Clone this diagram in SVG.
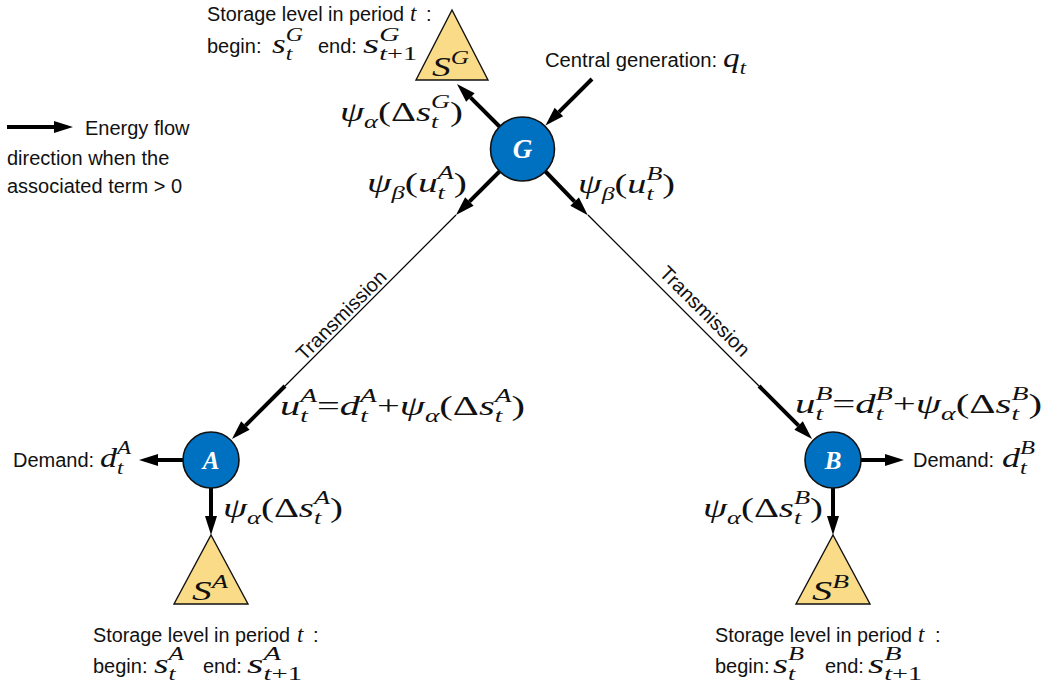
<svg xmlns="http://www.w3.org/2000/svg" width="1051" height="695" viewBox="0 0 1051 695">
<style>
.t{font-family:"Liberation Sans",Arial,sans-serif;font-size:20px;fill:#111}
.m{font-family:"Liberation Serif","Times New Roman",serif;font-style:italic;font-size:28px;fill:#111}
.mt{font-family:"Liberation Serif","Times New Roman",serif;font-style:italic;font-size:23px;fill:#111}
.sb{font-size:19px}
.up{font-style:normal}
.thick{stroke:#000;stroke-width:4;fill:none;marker-end:url(#ah)}
.thin{stroke:#000;stroke-width:1.2;fill:none}
.node{fill:#0070C0;stroke:#111;stroke-width:1.6}
.store{fill:#FADC88;stroke:#111;stroke-width:1.4;stroke-linejoin:miter}
.nl{font-family:"Liberation Serif","Times New Roman",serif;font-style:italic;font-weight:bold;font-size:27px;fill:#fff;text-anchor:middle}
.tr{font-family:"Liberation Sans",Arial,sans-serif;font-size:20px;fill:#111;text-anchor:middle}
</style>
<defs>
<marker id="ah" markerUnits="userSpaceOnUse" markerWidth="20" markerHeight="14" refX="0" refY="6" orient="auto" overflow="visible">
<path d="M0,0 L19,6 L0,12 z" fill="#000"/>
</marker>
</defs>

<g id="connectors">
<line class="thick" x1="7" y1="127" x2="54" y2="127"/>
<line class="thick" x1="500" y1="127" x2="470.4" y2="97.4"/>
<line class="thick" x1="592" y1="79" x2="558.9" y2="112.1"/>
<line class="thick" x1="500" y1="171" x2="469.4" y2="201.6"/>
<line class="thin" x1="456" y1="215" x2="285" y2="386"/>
<line class="thick" x1="285" y1="386" x2="245.4" y2="425.6"/>
<line class="thick" x1="545" y1="171" x2="574.6" y2="201.6"/>
<line class="thin" x1="588" y1="215" x2="759" y2="386"/>
<line class="thick" x1="759" y1="386" x2="798.6" y2="425.6"/>
<line class="thick" x1="184" y1="460" x2="158" y2="460"/>
<line class="thick" x1="211" y1="488" x2="211" y2="516"/>
<line class="thick" x1="860" y1="460" x2="885" y2="460"/>
<line class="thick" x1="833" y1="488" x2="833" y2="516"/>
</g>

<g id="legend">
<text class="t" x="85" y="135">Energy flow</text>
<text class="t" x="7" y="165">direction when the</text>
<text class="t" x="7" y="193">associated term &gt; 0</text>
</g>

<g id="node-G">
<circle class="node" cx="522.5" cy="149" r="32"/>
<text class="nl" x="522.5" y="158">G</text>
</g>
<g id="node-A">
<circle class="node" cx="211" cy="460" r="28"/>
<text class="nl" x="211" y="469" style="font-size:25px">A</text>
</g>
<g id="node-B">
<circle class="node" cx="833" cy="460" r="28"/>
<text class="nl" x="833" y="469" style="font-size:25px">B</text>
</g>

<g id="storage-G">
<polygon class="store" points="452,10 488,80 416,80"/>
<text class="m" x="432" y="76" textLength="37" lengthAdjust="spacingAndGlyphs">S<tspan class="sb" dy="-12">G</tspan></text>
</g>
<g id="storage-A">
<polygon class="store" points="211,535 248,604 174,604"/>
<text class="m" x="192" y="600" textLength="36" lengthAdjust="spacingAndGlyphs">S<tspan class="sb" dy="-12">A</tspan></text>
</g>
<g id="storage-B">
<polygon class="store" points="833,535 870,604 796,604"/>
<text class="m" x="812" y="600" textLength="37" lengthAdjust="spacingAndGlyphs">S<tspan class="sb" dy="-12">B</tspan></text>
</g>

<g id="labels-G">
<text class="t" x="207" y="21" textLength="197" lengthAdjust="spacingAndGlyphs">Storage level in period</text>
<text class="mt" x="410" y="21">t</text>
<text class="t" x="426" y="21">:</text>
<text class="t" x="207" y="53">begin:</text>
<text class="m" x="272" y="53" textLength="31" lengthAdjust="spacingAndGlyphs">s<tspan class="sb" dy="7">t</tspan><tspan class="sb" dx="-5.3" dy="-19">G</tspan></text>
<text class="t" x="318" y="53">end:</text>
<text class="m" x="363" y="53" textLength="54" lengthAdjust="spacingAndGlyphs">s<tspan class="sb" dy="7">t<tspan class="up">+1</tspan></tspan><tspan class="sb" dx="-25.5" dy="-19">G</tspan></text>
<text class="t" x="545" y="67" textLength="172" lengthAdjust="spacingAndGlyphs">Central generation:</text>
<text class="m" x="723" y="67" textLength="23" lengthAdjust="spacingAndGlyphs">q<tspan class="sb" dy="7">t</tspan></text>
<text class="m" x="340" y="121" textLength="123" lengthAdjust="spacingAndGlyphs">ψ<tspan class="sb" dy="7">α</tspan><tspan class="up" dy="-7">(Δ</tspan>s<tspan class="sb" dy="7">t</tspan><tspan class="sb" dx="-5.3" dy="-20">G</tspan><tspan class="up" dy="13">)</tspan></text>
<text class="m" x="367" y="192" textLength="100" lengthAdjust="spacingAndGlyphs">ψ<tspan class="sb" dy="7">β</tspan><tspan class="up" dy="-7">(</tspan>u<tspan class="sb" dy="7">t</tspan><tspan class="sb" dx="-5.3" dy="-20">A</tspan><tspan class="up" dy="13">)</tspan></text>
<text class="m" x="578" y="193" textLength="97" lengthAdjust="spacingAndGlyphs">ψ<tspan class="sb" dy="7">β</tspan><tspan class="up" dy="-7">(</tspan>u<tspan class="sb" dy="7">t</tspan><tspan class="sb" dx="-5.3" dy="-20">B</tspan><tspan class="up" dy="13">)</tspan></text>
<text class="tr" transform="translate(346,320) rotate(-45)">Transmission</text>
<text class="tr" transform="translate(700,316) rotate(45)">Transmission</text>
</g>

<g id="labels-A">
<text class="m" x="280" y="415" textLength="245" lengthAdjust="spacingAndGlyphs">u<tspan class="sb" dy="7">t</tspan><tspan class="sb" dx="-5.3" dy="-20">A</tspan><tspan class="up" dy="13">=</tspan>d<tspan class="sb" dy="7">t</tspan><tspan class="sb" dx="-5.3" dy="-20">A</tspan><tspan class="up" dy="13">+</tspan>ψ<tspan class="sb" dy="7">α</tspan><tspan class="up" dy="-7">(Δ</tspan>s<tspan class="sb" dy="7">t</tspan><tspan class="sb" dx="-5.3" dy="-20">A</tspan><tspan class="up" dy="13">)</tspan></text>
<text class="t" x="13" y="467">Demand:</text>
<text class="m" x="100" y="467" textLength="31" lengthAdjust="spacingAndGlyphs">d<tspan class="sb" dy="7">t</tspan><tspan class="sb" dx="-5.3" dy="-20">A</tspan></text>
<text class="m" x="223" y="517" textLength="120" lengthAdjust="spacingAndGlyphs">ψ<tspan class="sb" dy="7">α</tspan><tspan class="up" dy="-7">(Δ</tspan>s<tspan class="sb" dy="7">t</tspan><tspan class="sb" dx="-5.3" dy="-20">A</tspan><tspan class="up" dy="13">)</tspan></text>
<text class="t" x="93" y="642" textLength="197" lengthAdjust="spacingAndGlyphs">Storage level in period</text>
<text class="mt" x="297" y="642">t</text>
<text class="t" x="313" y="642">:</text>
<text class="t" x="93" y="673">begin:</text>
<text class="m" x="154" y="673" textLength="30" lengthAdjust="spacingAndGlyphs">s<tspan class="sb" dy="7">t</tspan><tspan class="sb" dx="-5.3" dy="-20">A</tspan></text>
<text class="t" x="203" y="673">end:</text>
<text class="m" x="247" y="673" textLength="55" lengthAdjust="spacingAndGlyphs">s<tspan class="sb" dy="7">t<tspan class="up">+1</tspan></tspan><tspan class="sb" dx="-25.5" dy="-20">A</tspan></text>
</g>

<g id="labels-B">
<text class="m" x="795" y="413" textLength="247" lengthAdjust="spacingAndGlyphs">u<tspan class="sb" dy="7">t</tspan><tspan class="sb" dx="-5.3" dy="-20">B</tspan><tspan class="up" dy="13">=</tspan>d<tspan class="sb" dy="7">t</tspan><tspan class="sb" dx="-5.3" dy="-20">B</tspan><tspan class="up" dy="13">+</tspan>ψ<tspan class="sb" dy="7">α</tspan><tspan class="up" dy="-7">(Δ</tspan>s<tspan class="sb" dy="7">t</tspan><tspan class="sb" dx="-5.3" dy="-20">B</tspan><tspan class="up" dy="13">)</tspan></text>
<text class="t" x="913" y="467">Demand:</text>
<text class="m" x="1002" y="467" textLength="33" lengthAdjust="spacingAndGlyphs">d<tspan class="sb" dy="7">t</tspan><tspan class="sb" dx="-5.3" dy="-20">B</tspan></text>
<text class="m" x="703" y="517" textLength="120" lengthAdjust="spacingAndGlyphs">ψ<tspan class="sb" dy="7">α</tspan><tspan class="up" dy="-7">(Δ</tspan>s<tspan class="sb" dy="7">t</tspan><tspan class="sb" dx="-5.3" dy="-20">B</tspan><tspan class="up" dy="13">)</tspan></text>
<text class="t" x="715" y="642" textLength="197" lengthAdjust="spacingAndGlyphs">Storage level in period</text>
<text class="mt" x="918" y="642">t</text>
<text class="t" x="935" y="642">:</text>
<text class="t" x="715" y="673">begin:</text>
<text class="m" x="773" y="673" textLength="31" lengthAdjust="spacingAndGlyphs">s<tspan class="sb" dy="7">t</tspan><tspan class="sb" dx="-5.3" dy="-20">B</tspan></text>
<text class="t" x="825" y="673">end:</text>
<text class="m" x="868" y="673" textLength="54" lengthAdjust="spacingAndGlyphs">s<tspan class="sb" dy="7">t<tspan class="up">+1</tspan></tspan><tspan class="sb" dx="-25.5" dy="-20">B</tspan></text>
</g>
</svg>
